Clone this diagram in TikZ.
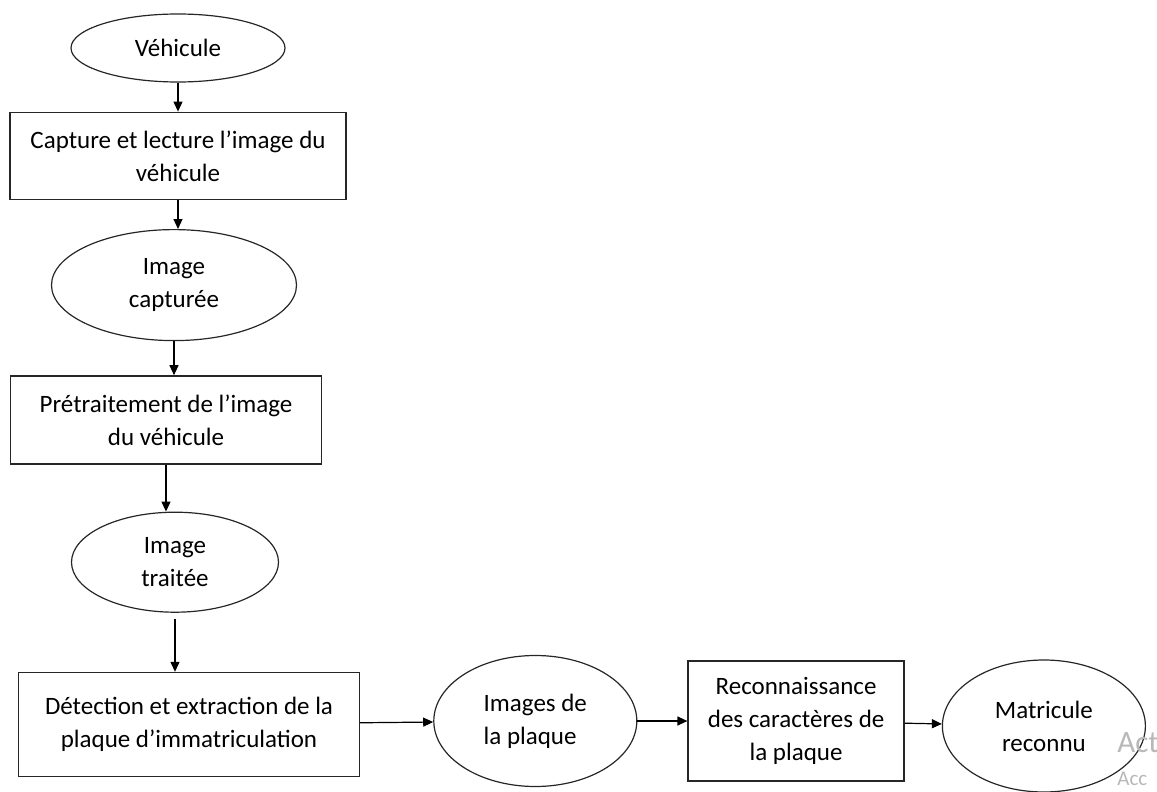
\documentclass[tikz,border=0pt]{standalone}
\usepackage{fontspec}
\setmainfont{Carlito}
\usetikzlibrary{shapes,arrows.meta,positioning}

\begin{document}
\begin{tikzpicture}[
    x=0.5pt, y=-0.5pt,
    every node/.style={font=\fontsize{12.5}{16.5}\selectfont, align=center},
    etat/.style={ellipse, draw=black!85, line width=0.6pt, inner sep=0pt},
    block/.style={rectangle, draw=black!85, line width=0.7pt, inner sep=0pt},
    arrow/.style={-{Triangle[length=5pt,width=4.5pt]}, line width=0.6pt},
    marque/.style={text=black!28, anchor=base west, inner sep=0pt}
]
\useasboundingbox (0,0) rectangle (1157,792);

\node[etat, minimum width=107pt, minimum height=34pt] (veh) at (178,48) {Véhicule};
\node[block, below=14.5pt of veh, minimum width=168pt, minimum height=43.5pt] (capt) {Capture et lecture l’image du\\véhicule};
\node[etat, below=14.5pt of capt, xshift=-2pt, minimum width=122.5pt, minimum height=55.5pt] (imcap) {Image\\capturée};
\node[block, below=17pt of imcap, xshift=-4pt, minimum width=155.5pt, minimum height=44pt] (pretr) {Prétraitement de l’image\\du véhicule};
\node[etat, below=23.5pt of pretr, xshift=4.5pt, minimum width=103.5pt, minimum height=50pt] (imtr) {Image\\traitée};
\node[block, below=29.5pt of imtr, xshift=7pt, minimum width=170.5pt, minimum height=52pt] (detect) {Détection et extraction de la\\plaque d’immatriculation};
\node[etat, right=36.5pt of detect, yshift=1.75pt, minimum width=101.5pt, minimum height=65.5pt, align=left] (implq) {Images de\\la plaque};
\node[block, right=25pt of implq, minimum width=108pt, minimum height=60pt] (recon) {Reconnaissance\\des caractères de\\la plaque};
\node[etat, right=18.5pt of recon, yshift=-2.5pt, minimum width=101.5pt, minimum height=66pt] (matr) {Matricule\\reconnu};

% filigrane
\node[marque, font=\fontsize{15.5}{15.5}\selectfont] (wm1) at (1117,752) {Act};
\node[marque, font=\fontsize{10.5}{10.5}\selectfont] (wm2) at (1117,785) {Acc};

\draw[arrow] (veh.south) -- (veh.south |- capt.north);
\draw[arrow] (capt.south) -- (capt.south |- imcap.north);
\draw[arrow] (imcap.south) -- (imcap.south |- pretr.north);
\draw[arrow] (pretr.south) -- (pretr.south |- imtr.north);
\draw[arrow, shorten <=3pt] (imtr.south) -- (imtr.south |- detect.north);
\draw[arrow] (detect) -- (implq);
\draw[arrow] (implq) -- (recon);
\draw[arrow] (recon) -- (matr);
\end{tikzpicture}
\end{document}
